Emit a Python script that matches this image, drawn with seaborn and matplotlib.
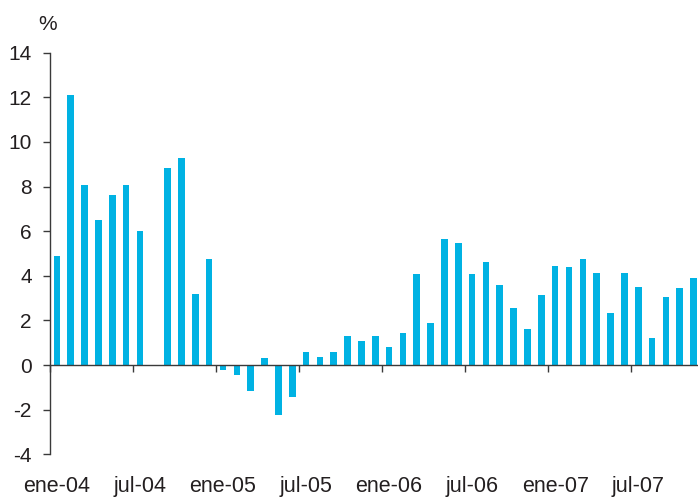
import numpy as np
import pandas as pd
import matplotlib
matplotlib.use("Agg")
import matplotlib.pyplot as plt
import seaborn as sns

# monthly series, ene-04 .. nov-07 (ago-04 has no value)
months = [f"{m}-{y:02d}" for y in range(4, 8)
          for m in ["ene", "feb", "mar", "abr", "may", "jun",
                    "jul", "ago", "sep", "oct", "nov", "dic"]][:47]
values = [4.9, 12.1, 8.05, 6.5, 7.6, 8.05, 6.0, np.nan, 8.85, 9.3, 3.2, 4.75,
          -0.2, -0.45, -1.15, 0.3, -2.25, -1.45, 0.6, 0.38, 0.6, 1.3, 1.08, 1.3,
          0.82, 1.45, 4.07, 1.87, 5.65, 5.47, 4.07, 4.6, 3.6, 2.57, 1.62, 3.12,
          4.45, 4.38, 4.75, 4.13, 2.33, 4.13, 3.5, 1.22, 3.03, 3.44, 3.9]
tick_labels = ["ene-04", "jul-04", "ene-05", "jul-05",
               "ene-06", "jul-06", "ene-07", "jul-07"]

df = pd.DataFrame({"mes": months, "valor": values})

sns.set_style("white")
plt.rcParams["font.family"] = ["Liberation Sans", "DejaVu Sans"]
plt.rcParams["axes.unicode_minus"] = False
text_col = "#231f20"

fig = plt.figure(figsize=(6.98, 5.0), dpi=100)
ax = fig.add_axes([50 / 698, 45.7 / 500, 650.5 / 698, 401.6 / 500])

sns.barplot(data=df, x="mes", y="valor", order=months, color="#00b2e3",
            saturation=1, width=0.48, errorbar=None, linewidth=0, ax=ax)

ax.set_ylim(-4, 14)
ax.set_yticks(range(-4, 15, 2))
ax.set_xlim(-0.5, 46.5)
ax.set_xlabel("")
ax.set_ylabel("")

for s in ["top", "right"]:
    ax.spines[s].set_visible(False)
ax.spines["bottom"].set_position(("data", 0))
for s in ["left", "bottom"]:
    ax.spines[s].set_color("#3a3a3a")
    ax.spines[s].set_linewidth(1.0)

ax.set_xticks(range(0, 47, 6))
ax.set_xticklabels(tick_labels)
ax.set_xticks(np.arange(-0.5, 46, 6), minor=True)
ax.tick_params(axis="x", which="major", length=0, pad=80, labelsize=15.5,
               labelcolor=text_col)
ax.tick_params(axis="x", which="minor", length=5, width=1, color="#3a3a3a",
               direction="out")
ax.tick_params(axis="y", length=5, width=1, color="#3a3a3a", direction="out",
               pad=8, labelsize=15, labelcolor=text_col)
ax.tick_params(axis="both", bottom=True, left=True, which="both")

fig.text(48 / 698, 1 - 24 / 500, "%", ha="center", va="center",
         fontsize=15, color=text_col)

fig.savefig("out.png", dpi=100)
